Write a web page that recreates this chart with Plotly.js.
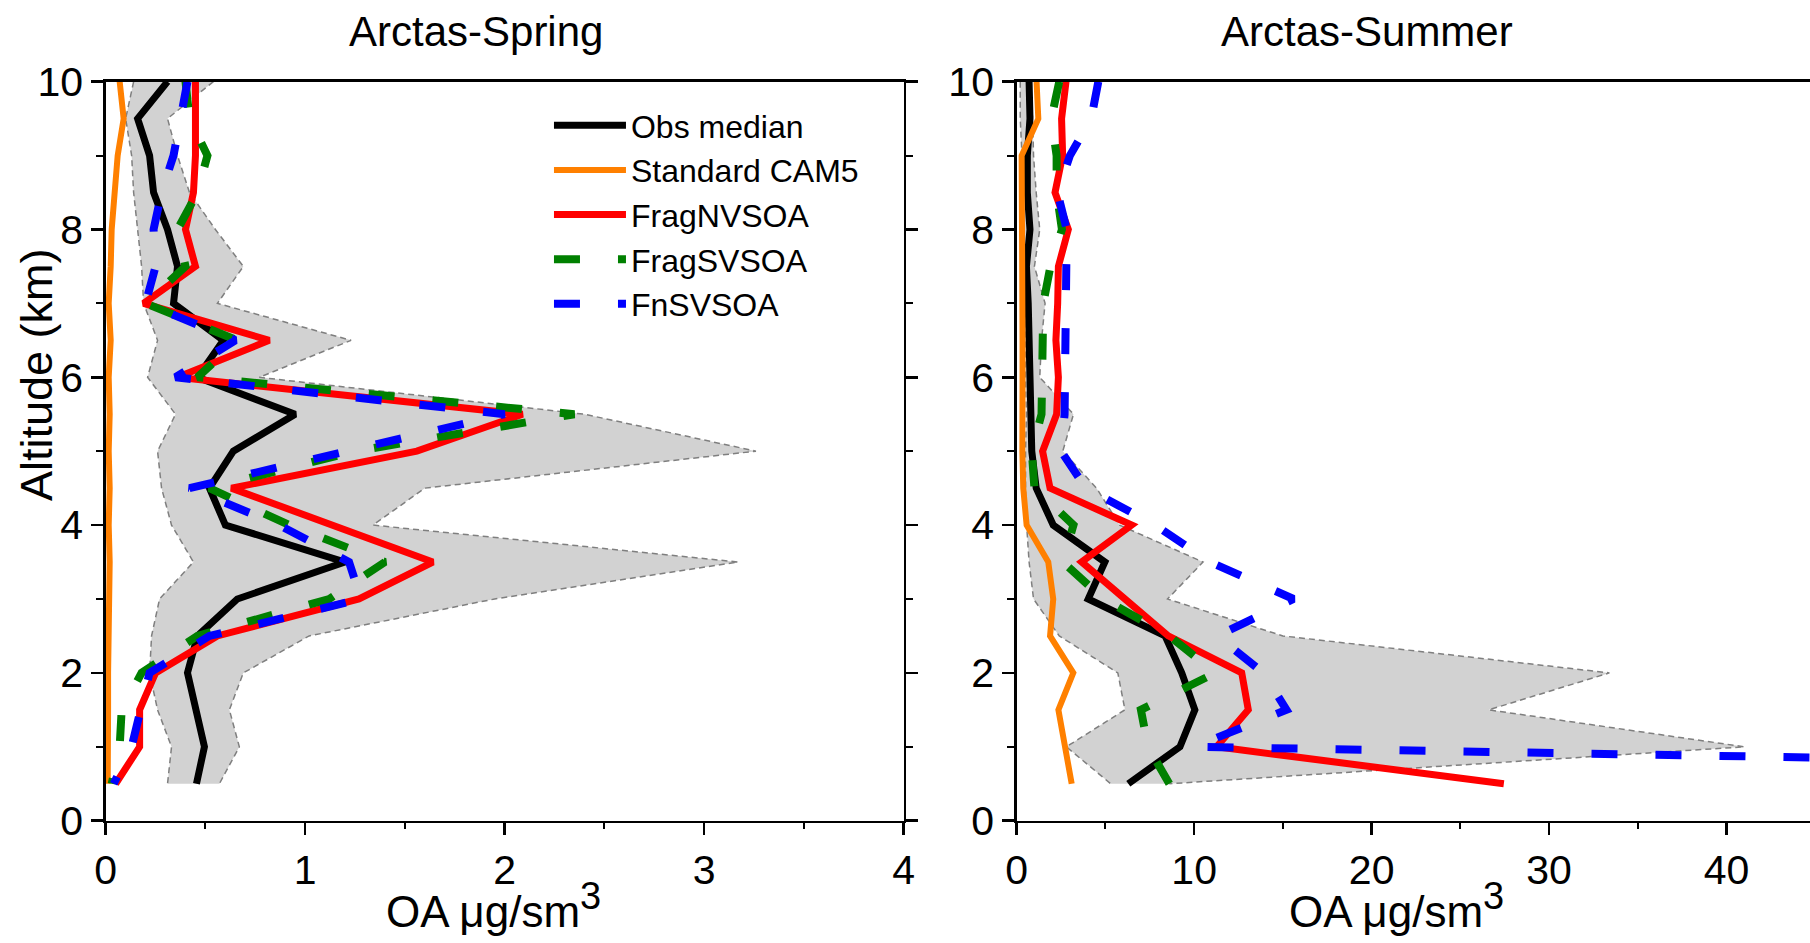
<!DOCTYPE html>
<html>
<head>
<meta charset="utf-8">
<script src="https://cdn.plot.ly/plotly-3.0.1.min.js"></script>
<style>html,body{margin:0;padding:0;background:#fff;}#chart{width:1810px;height:943px;}</style>
</head>
<body>
<div id="chart"></div>
<script>
// Altitude levels (km)
const altitude = [10, 9.5, 9, 8.5, 8, 7.5, 7, 6.5, 6, 5.5, 5, 4.5, 4, 3.5, 3, 2.5, 2, 1.5, 1, 0.5];

// Arctas-Spring (OA, ug/sm3)
const springObsMedian = [0.31, 0.16, 0.22, 0.24, 0.31, 0.36, 0.34, 0.59, 0.46, 0.95, 0.64, 0.52, 0.60, 1.20, 0.66, 0.46, 0.41, 0.455, 0.495, 0.455];
const springStdCAM5   = [0.07, 0.09, 0.06, 0.045, 0.03, 0.025, 0.015, 0.025, 0.015, 0.02, 0.015, 0.02, 0.015, 0.02, 0.015, 0.015, 0.012, 0.012, 0.01, 0.01];
const springFragNV    = [0.45, 0.45, 0.45, 0.44, 0.40, 0.45, 0.19, 0.82, 0.36, 2.09, 1.56, 0.63, 1.13, 1.64, 1.27, 0.56, 0.25, 0.17, 0.17, 0.05];
const springFragSV    = [0.40, 0.42, 0.51, 0.46, 0.36, 0.40, 0.20, 0.66, 0.46, 2.35, 1.25, 0.52, 0.92, 1.40, 1.12, 0.46, 0.18, 0.08, 0.07, 0.03];
const springFnSV      = [0.41, 0.38, 0.34, 0.28, 0.24, 0.25, 0.20, 0.65, 0.35, 2.00, 1.20, 0.42, 0.87, 1.22, 1.28, 0.52, 0.22, 0.17, 0.13, 0.04];
const springObsLow    = [0.14, 0.10, 0.13, 0.14, 0.16, 0.18, 0.19, 0.26, 0.21, 0.35, 0.26, 0.28, 0.33, 0.44, 0.27, 0.23, 0.22, 0.26, 0.33, 0.31];
const springObsHigh   = [0.54, 0.31, 0.36, 0.42, 0.55, 0.69, 0.56, 1.23, 0.77, 2.40, 3.26, 1.60, 1.34, 3.17, 1.95, 1.02, 0.69, 0.62, 0.67, 0.57];

// Arctas-Summer (OA, ug/sm3)
const summerObsMedian = [0.7, 0.75, 0.6, 0.6, 0.75, 0.55, 0.65, 0.7, 0.7, 0.75, 0.85, 1.1, 2.06, 4.97, 4.03, 8.36, 9.3, 10.04, 9.2, 6.29];
const summerStdCAM5   = [1.12, 1.22, 0.28, 0.3, 0.35, 0.3, 0.32, 0.33, 0.33, 0.3, 0.32, 0.37, 0.56, 1.78, 2.06, 1.88, 3.19, 2.35, 2.72, 3.1];
const summerFragNV    = [2.78, 2.53, 2.59, 2.16, 2.91, 2.35, 2.31, 2.21, 2.35, 2.25, 1.46, 1.88, 6.48, 3.66, 6.1, 8.54, 12.68, 13.05, 11.27, 27.45];
const summerFragSV    = [2.4, 1.95, 2.25, 2.25, 2.55, 1.9, 1.5, 1.5, 1.42, 1.4, 0.85, 1.0, 3.2, 2.6, 4.9, 8.6, 11.2, 7.0, 7.4, 8.6];
const summerFnSV      = [4.6, 4.2, 3.0, 2.3, 2.82, 2.8, 2.78, 2.75, 2.75, 2.7, 2.5, 3.9, 7.8, 10.9, 15.6, 11.3, 13.9, 15.2, 10.0, 130];
const summerObsLow    = [0.2, 0.2, 0.3, 0.35, 0.4, 0.45, 0.45, 0.5, 0.5, 0.55, 0.5, 0.5, 0.56, 0.7, 0.95, 2.4, 5.7, 6.1, 2.8, 5.3];
const summerObsHigh   = [0.7, 0.9, 0.95, 1.1, 1.3, 1.0, 1.6, 1.4, 1.3, 3.2, 2.6, 4.5, 5.8, 10.5, 8.5, 15.0, 33.4, 26.6, 41.0, 8.6];

const seriesNames = ['Obs median', 'Standard CAM5', 'FragNVSOA', 'FragSVSOA', 'FnSVSOA'];
const panelTitles = ['Arctas-Spring', 'Arctas-Summer'];
const xAxisTitle = 'OA μg/sm<sup><span style="font-size:38px">3</span></sup>';
const yAxisTitle = 'Altitude (km)';

const styles = [
  {color: '#000000', width: 7, dash: 'solid'},
  {color: '#ff8000', width: 6, dash: 'solid'},
  {color: '#ff0000', width: 7, dash: 'solid'},
  {color: '#008000', width: 8, dash: '26px,38px'},
  {color: '#0000ff', width: 8, dash: '26px,38px'}
];

function panel(xa, ya, low, high, series, legend) {
  const out = [];
  out.push({x: low, y: altitude, xaxis: xa, yaxis: ya, type: 'scatter', mode: 'lines',
    line: {color: '#7f7f7f', width: 1.5, dash: '6px,4px'}, showlegend: false, hoverinfo: 'skip'});
  out.push({x: high, y: altitude, xaxis: xa, yaxis: ya, type: 'scatter', mode: 'lines',
    fill: 'tonextx', fillcolor: '#d2d2d2',
    line: {color: '#7f7f7f', width: 1.5, dash: '6px,4px'}, showlegend: false, hoverinfo: 'skip'});
  series.forEach((s, i) => {
    out.push({x: s, y: altitude, xaxis: xa, yaxis: ya, type: 'scatter', mode: 'lines',
      name: seriesNames[i], line: styles[i], showlegend: legend});
  });
  return out;
}

const data = [].concat(
  panel('x', 'y', springObsLow, springObsHigh,
    [springObsMedian, springStdCAM5, springFragNV, springFragSV, springFnSV], true),
  panel('x2', 'y2', summerObsLow, summerObsHigh,
    [summerObsMedian, summerStdCAM5, summerFragNV, summerFragSV, summerFnSV], false)
);

const axisCommon = {
  showline: true, linecolor: '#000', linewidth: 2.5, showgrid: false, zeroline: false,
  ticks: 'outside', ticklen: 12, tickwidth: 2.5, tickcolor: '#000',
  tickfont: {size: 41, color: '#000'}
};
const yDomain = [0.1297, 0.9134];

const layout = {
  width: 1810, height: 943,
  margin: {l: 0, r: 0, t: 0, b: 0},
  paper_bgcolor: '#fff', plot_bgcolor: '#fff',
  font: {family: '"Liberation Sans", Arial, sans-serif', color: '#000'},
  showlegend: true,
  legend: {x: 0.3033, y: 0.896, xanchor: 'left', yanchor: 'top', bgcolor: 'rgba(0,0,0,0)',
    font: {size: 32, color: '#000'}, itemwidth: 72, tracegroupgap: 0, traceorder: 'normal'},
  xaxis: Object.assign({}, axisCommon, {domain: [0.0584, 0.4992], range: [0, 4], dtick: 1,
    mirror: true, anchor: 'y', minor: {dtick: 0.5, ticks: 'outside', ticklen: 6, tickwidth: 2, tickcolor: '#000'}}),
  yaxis: Object.assign({}, axisCommon, {domain: yDomain, range: [0, 10], dtick: 2,
    mirror: 'ticks', anchor: 'x', minor: {dtick: 1, ticks: 'outside', ticklen: 7, tickwidth: 2, tickcolor: '#000'}}),
  xaxis2: Object.assign({}, axisCommon, {domain: [0.5617, 1], range: [0, 44.7], dtick: 10,
    mirror: true, anchor: 'y2', minor: {dtick: 5, ticks: 'outside', ticklen: 6, tickwidth: 2, tickcolor: '#000'}}),
  yaxis2: Object.assign({}, axisCommon, {domain: yDomain, range: [0, 10], dtick: 2,
    mirror: false, anchor: 'x2', minor: {dtick: 1, ticks: 'outside', ticklen: 7, tickwidth: 2, tickcolor: '#000'}}),
  annotations: [
    {text: panelTitles[0], xref: 'paper', yref: 'paper', x: 0.263, y: 0.967, xanchor: 'center', yanchor: 'middle',
      showarrow: false, font: {size: 42}},
    {text: panelTitles[1], xref: 'paper', yref: 'paper', x: 0.7552, y: 0.967, xanchor: 'center', yanchor: 'middle',
      showarrow: false, font: {size: 42}},
    {text: yAxisTitle, xref: 'paper', yref: 'paper', x: 0.0199, y: 0.6023, xanchor: 'center', yanchor: 'middle',
      textangle: -90, showarrow: false, font: {size: 45}},
    {text: xAxisTitle, xref: 'paper', yref: 'paper', x: 0.2724, y: 0.04,
      xanchor: 'center', yanchor: 'middle', showarrow: false, font: {size: 44}},
    {text: xAxisTitle, xref: 'paper', yref: 'paper', x: 0.7713, y: 0.04,
      xanchor: 'center', yanchor: 'middle', showarrow: false, font: {size: 44}}
  ]
};

Plotly.newPlot('chart', data, layout, {displayModeBar: false, staticPlot: true});
</script>
</body>
</html>
